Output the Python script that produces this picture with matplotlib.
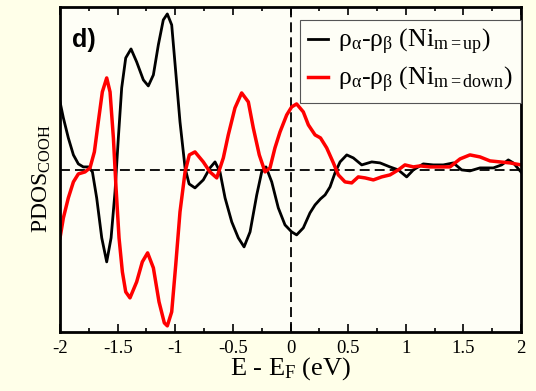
import matplotlib
matplotlib.use("Agg")
import matplotlib.pyplot as plt
from matplotlib.ticker import MultipleLocator, NullLocator

plt.rcParams['font.family'] = ['Liberation Serif', 'DejaVu Serif']
plt.rcParams['mathtext.fontset'] = 'custom'
plt.rcParams['mathtext.rm'] = 'Liberation Serif'
plt.rcParams['mathtext.it'] = 'Liberation Serif:italic'

# spin-density difference, Ni moment up (black)
e_up = [-2.0, -1.971, -1.928, -1.884, -1.841, -1.798, -1.754, -1.719, -1.682, -1.638, -1.595,
        -1.557, -1.523, -1.494, -1.465, -1.430, -1.384, -1.335, -1.277, -1.234, -1.190, -1.147,
        -1.104, -1.069, -1.031, -0.996, -0.959, -0.915, -0.880, -0.829, -0.757, -0.699, -0.655,
        -0.612, -0.568, -0.510, -0.453, -0.403, -0.351, -0.293, -0.250, -0.213, -0.163, -0.106,
        -0.048, 0.010, 0.053, 0.111, 0.169, 0.213, 0.260, 0.300, 0.343, 0.386, 0.43, 0.488,
        0.545, 0.618, 0.705, 0.777, 0.863, 0.935, 1.008, 1.066, 1.152, 1.239, 1.326, 1.413,
        1.485, 1.557, 1.644, 1.760, 1.832, 1.890, 1.933, 2.0]
pdos_up = [0.68, 0.52, 0.32, 0.15, 0.06, 0.03, 0.03, -0.02, -0.28, -0.68, -0.92,
           -0.68, -0.22, 0.32, 0.82, 1.12, 1.21, 1.08, 0.90, 0.84, 0.95, 1.25,
           1.50, 1.56, 1.45, 0.98, 0.48, 0.02, -0.14, -0.18, -0.10, 0.02, 0.08,
           -0.02, -0.28, -0.52, -0.68, -0.77, -0.62, -0.25, -0.02, 0.03, -0.12, -0.38,
           -0.55, -0.62, -0.65, -0.58, -0.43, -0.35, -0.29, -0.25, -0.17, -0.03, 0.08, 0.15,
           0.12, 0.05, 0.08, 0.07, 0.03, 0.0, -0.07, 0.0, 0.06, 0.05, 0.05, 0.07,
           0.0, -0.01, 0.02, 0.02, 0.05, 0.10, 0.07, -0.02]

# spin-density difference, Ni moment down (red)
e_down = [-2.0, -1.971, -1.928, -1.884, -1.841, -1.783, -1.74, -1.702, -1.668, -1.633, -1.595,
          -1.566, -1.537, -1.514, -1.488, -1.459, -1.430, -1.393, -1.335, -1.286, -1.240, -1.190,
          -1.141, -1.095, -1.069, -1.031, -0.996, -0.959, -0.915, -0.878, -0.829, -0.757, -0.699,
          -0.640, -0.583, -0.540, -0.482, -0.424, -0.366, -0.323, -0.271, -0.221, -0.178, -0.135,
          -0.091, -0.033, 0.010, 0.053, 0.111, 0.155, 0.213, 0.260, 0.314, 0.372, 0.415, 0.473,
          0.531, 0.588, 0.647, 0.719, 0.791, 0.863, 0.935, 0.993, 1.066, 1.124, 1.211, 1.297,
          1.384, 1.471, 1.557, 1.644, 1.731, 1.818, 1.904, 2.0]
pdos_down = [-0.68, -0.48, -0.28, -0.12, -0.04, -0.02, 0.02, 0.18, 0.48, 0.78, 0.92,
             0.78, 0.32, -0.18, -0.68, -1.02, -1.22, -1.28, -1.12, -0.92, -0.83, -0.98,
             -1.32, -1.53, -1.56, -1.42, -0.95, -0.42, -0.02, 0.15, 0.18, 0.08, -0.02,
             -0.08, 0.12, 0.35, 0.62, 0.77, 0.68, 0.42, 0.15, -0.02, 0.02, 0.22,
             0.38, 0.55, 0.63, 0.66, 0.58, 0.45, 0.35, 0.32, 0.22, 0.07, -0.05, -0.12,
             -0.13, -0.07, -0.08, -0.10, -0.07, -0.05, 0.0, 0.05, 0.03, 0.04, 0.03, 0.03,
             0.03, 0.11, 0.15, 0.13, 0.09, 0.08, 0.07, 0.05]

xticks = [-2, -1.5, -1, -0.5, 0, 0.5, 1, 1.5, 2]
xtick_labels = ['-2', '-1.5', '-1', '-0.5', '0', '0.5', '1', '1.5', '2']

label_up = r'ρ$_{\mathrm{α}}$-ρ$_{\mathrm{β}}$ (Ni$_{\mathrm{m{=}up}}$)'
label_down = r'ρ$_{\mathrm{α}}$-ρ$_{\mathrm{β}}$ (Ni$_{\mathrm{m{=}down}}$)'

fig = plt.figure(figsize=(5.36, 3.91), dpi=100, facecolor='#ffffe9')
ax = fig.add_axes([0.112, 0.152, 0.860, 0.831], facecolor='#fefef6')

ax.axhline(0, color='black', lw=1.3, dashes=(5.5, 2.8))
ax.axvline(0, color='black', lw=1.3, dashes=(5.5, 2.8))
ax.plot(e_up, pdos_up, color='black', lw=2.0, label=label_up)
ax.plot(e_down, pdos_down, color='#ff0000', lw=2.5, label=label_down)

ax.set_xlim(-2, 2)
ax.set_ylim(-1.617, 1.633)
ax.set_xticks(xticks)
ax.set_xticklabels(xtick_labels)
ax.xaxis.set_minor_locator(MultipleLocator(0.25))
ax.yaxis.set_major_locator(NullLocator())
ax.tick_params(axis='x', which='both', direction='in', top=True, labelsize=13.5, width=1.2, pad=6)
ax.tick_params(axis='x', which='major', length=6)
ax.tick_params(axis='x', which='minor', length=3.2)
for s in ax.spines.values():
    s.set_linewidth(2)

ax.set_xlabel(r'E - E$_{\mathrm{F}}$ (eV)', fontsize=19, labelpad=-1)
ax.set_ylabel(r'PDOS$_{\mathrm{COOH}}$', fontsize=17)
ax.yaxis.set_label_coords(-0.015, 0.47)
ax.text(0.025, 0.935, 'd)', transform=ax.transAxes, fontsize=18, fontweight='bold',
        family='Liberation Sans', va='top')

leg = ax.legend(loc='upper right', bbox_to_anchor=(1.0, 0.96), fontsize=18.5, handlelength=0.8,
                handletextpad=0.4, borderaxespad=0, borderpad=0.3, labelspacing=0.3,
                fancybox=False, framealpha=1, facecolor='#fefef6', edgecolor='#555555')
leg.get_frame().set_linewidth(0.8)

fig.savefig('out.png', dpi=100, facecolor=fig.get_facecolor())
